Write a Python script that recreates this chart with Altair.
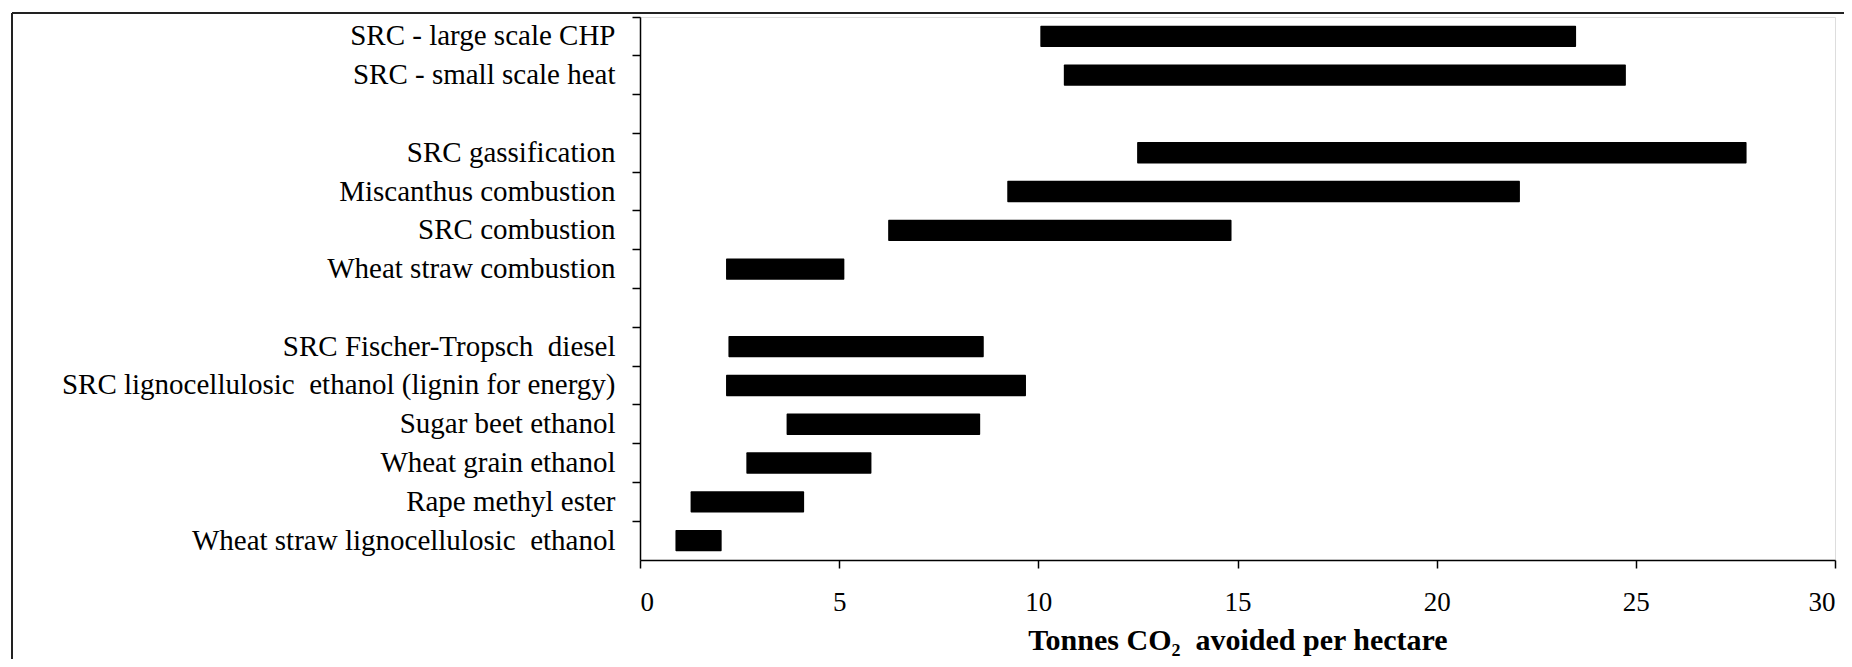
import altair as alt
import pandas as pd

rows = [
    "SRC - large scale CHP",
    "SRC - small scale heat",
    "gap1",
    "SRC gassification",
    "Miscanthus combustion",
    "SRC combustion",
    "Wheat straw combustion",
    "gap2",
    "SRC Fischer-Tropsch\u00a0 diesel",
    "SRC lignocellulosic\u00a0 ethanol (lignin for energy)",
    "Sugar beet ethanol",
    "Wheat grain ethanol",
    "Rape methyl ester",
    "Wheat straw lignocellulosic\u00a0 ethanol",
]

categories = [
    "SRC - large scale CHP",
    "SRC - small scale heat",
    "SRC gassification",
    "Miscanthus combustion",
    "SRC combustion",
    "Wheat straw combustion",
    "SRC Fischer-Tropsch\u00a0 diesel",
    "SRC lignocellulosic\u00a0 ethanol (lignin for energy)",
    "Sugar beet ethanol",
    "Wheat grain ethanol",
    "Rape methyl ester",
    "Wheat straw lignocellulosic\u00a0 ethanol",
]
low = [10.05, 10.64, 12.48, 9.22, 6.23, 2.16, 2.22, 2.16, 3.68, 2.67, 1.27, 0.89]
high = [23.5, 24.75, 27.78, 22.09, 14.85, 5.13, 8.63, 9.69, 8.54, 5.81, 4.12, 2.05]
x_ticks = [0, 5, 10, 15, 20, 25, 30]

df = pd.DataFrame({"cat": categories, "low": low, "high": high})

FONT = "Liberation Serif"

bars = alt.Chart(df).mark_bar(color="black", height={"band": 0.55}, cornerRadius=1).encode(
    y=alt.Y(
        "cat:N",
        scale=alt.Scale(domain=rows, paddingInner=0, paddingOuter=0),
        axis=alt.Axis(
            title=None,
            bandPosition=0,
            labelExpr="indexof(datum.value, 'gap') == 0 ? '' : datum.value",
            labelFont=FONT,
            labelFontSize=29,
            labelColor="black",
            labelPadding=17,
            tickSize=8,
            tickColor="black",
            tickWidth=1.5,
            domainColor="black",
            domainWidth=1.5,
            grid=False,
            labelLimit=1000,
        ),
    ),
    x=alt.X(
        "low:Q",
        scale=alt.Scale(domain=[0, 30], nice=False),
        axis=alt.Axis(
            title="Tonnes CO₂\u00a0 avoided per hectare",
            values=x_ticks,
            labelFont=FONT,
            labelFontSize=27,
            labelColor="black",
            labelPadding=21,
            tickSize=8,
            tickColor="black",
            tickWidth=1.5,
            domainColor="black",
            domainWidth=1.5,
            grid=False,
            titleFont=FONT,
            titleFontSize=30,
            titleFontWeight="bold",
            titleColor="black",
            titlePadding=10,
        ),
    ),
    x2="high:Q",
)

frame_left = alt.Chart(df).mark_rule(color="#222222", strokeWidth=2).encode(
    x=alt.value(-628), y=alt.value(-4), y2=alt.value(700)
)
frame_top = alt.Chart(df).mark_rule(color="#222222", strokeWidth=2).encode(
    x=alt.value(-628), x2=alt.value(1300), y=alt.value(-4)
)

chart = (
    alt.layer(frame_left, frame_top, bars)
    .properties(
        width=1195,
        height=543,
        autosize=alt.AutoSizeParams(type="none"),
        padding={"left": 632, "top": 9, "right": 9, "bottom": 99},
    )
    .configure_view(stroke=None)
    .configure(background="white")
)

chart.save("out.html", embed_options={"renderer": "svg", "actions": False})
